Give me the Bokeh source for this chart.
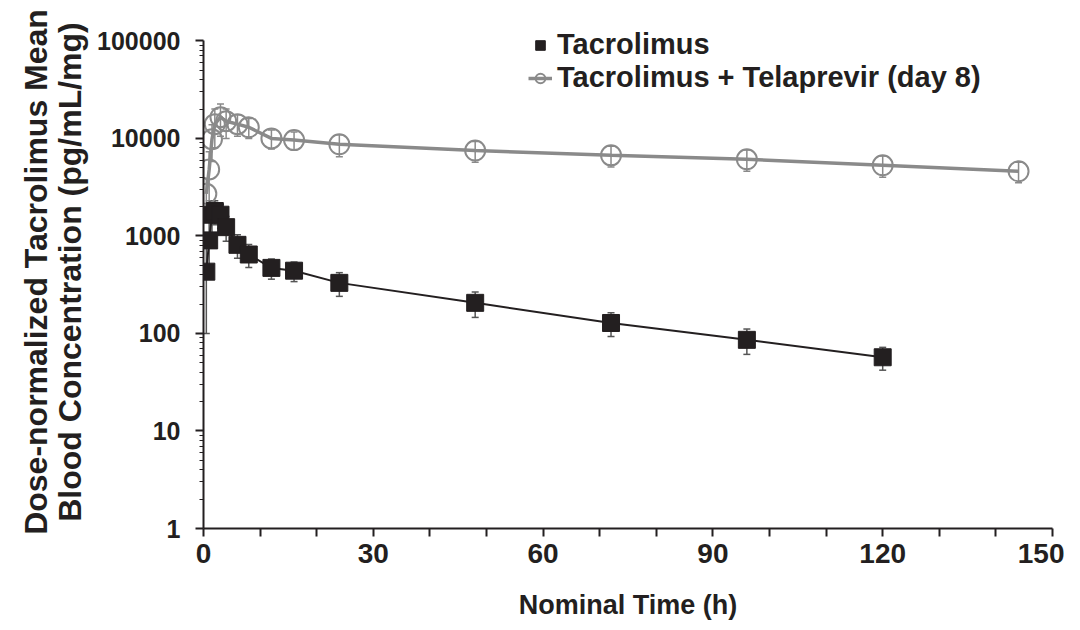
from bokeh.plotting import figure
from bokeh.models import (ColumnDataSource, Whisker, TeeHead, Legend, LegendItem,
                          FixedTicker, PrintfTickFormatter, Range1d)
from bokeh.embed import file_html
from bokeh.resources import INLINE

# ---- data ----
tac_time = [0.5, 1, 1.5, 2, 3, 4, 6, 8, 12, 16, 24, 48, 72, 96, 120]
tac_mean = [430, 900, 1650, 1800, 1650, 1230, 810, 645, 470, 440, 330, 206, 128, 86, 57]
tac_sd = [330, 500, 600, 500, 450, 350, 220, 170, 110, 100, 90, 60, 35, 25, 15]

tel_time = [0.5, 1, 1.5, 2, 3, 4, 6, 8, 12, 16, 24, 48, 72, 96, 120, 144]
tel_mean = [2700, 4800, 9800, 14000, 16500, 15000, 14000, 13000, 10000, 9600, 8700,
            7500, 6700, 6100, 5300, 4600]
tel_sd = [1200, 2500, 4000, 6000, 6000, 5000, 3500, 3000, 2200, 2000, 2200,
          1800, 1600, 1500, 1300, 1100]

x_ticks = [0, 10, 20, 30, 40, 50, 60, 70, 80, 90, 100, 110, 120, 130, 140, 150]
x_labeled = [0, 30, 60, 90, 120, 150]
y_ticks = [1, 10, 100, 1000, 10000, 100000]

series_labels = ["Tacrolimus", "Tacrolimus + Telaprevir (day 8)"]
x_title = "Nominal Time (h)"
y_title = "Dose-normalized Tacrolimus Mean\nBlood Concentration (pg/mL/mg)"

FONT = "Liberation Sans"
BLACK = "#231f20"
GRAY = "#8a8a8a"

tac_src = ColumnDataSource(dict(
    t=tac_time, y=tac_mean,
    upper=[m + s for m, s in zip(tac_mean, tac_sd)],
    lower=[m - s for m, s in zip(tac_mean, tac_sd)]))
tel_src = ColumnDataSource(dict(
    t=tel_time, y=tel_mean,
    upper=[m + s for m, s in zip(tel_mean, tel_sd)],
    lower=[m - s for m, s in zip(tel_mean, tel_sd)]))

# frame extends a little above 100000 so the legend has room; axis line stops at 100000
p = figure(width=1064, height=622, y_axis_type="log",
           x_range=Range1d(0, 150), y_range=Range1d(1, 10 ** 5.26),
           output_backend="svg", toolbar_location=None,
           min_border_left=203, min_border_right=12,
           min_border_top=15, min_border_bottom=94)
p.outline_line_color = None
p.xgrid.visible = False
p.ygrid.visible = False
p.background_fill_color = "white"

# error bars
tel_w = Whisker(base="t", upper="upper", lower="lower", source=tel_src,
                line_color=GRAY, line_width=1.5,
                upper_head=TeeHead(size=7, line_color=GRAY, line_width=1.5),
                lower_head=TeeHead(size=7, line_color=GRAY, line_width=1.5))
tac_w = Whisker(base="t", upper="upper", lower="lower", source=tac_src,
                line_color="#555555", line_width=1.5,
                upper_head=TeeHead(size=7, line_color="#555555", line_width=1.5),
                lower_head=TeeHead(size=7, line_color="#555555", line_width=1.5))
p.add_layout(tel_w)
p.add_layout(tac_w)

tel_line = p.line("t", "y", source=tel_src, line_color=GRAY, line_width=3.5)
tel_pts = p.scatter("t", "y", source=tel_src, marker="circle", size=20,
                    fill_alpha=0, line_color=GRAY, line_width=2)
tac_line = p.line("t", "y", source=tac_src, line_color=BLACK, line_width=2)
tac_pts = p.scatter("t", "y", source=tac_src, marker="square", size=17,
                    fill_color=BLACK, line_color=BLACK)

legend = Legend(items=[LegendItem(label=series_labels[0], renderers=[tac_pts]),
                       LegendItem(label=series_labels[1], renderers=[tel_line, tel_pts])],
                location=(325, 434), border_line_color=None, background_fill_alpha=0,
                label_text_font=FONT, label_text_font_style="bold",
                label_text_font_size="29px", label_text_color=BLACK,
                label_text_line_height=0.9,
                glyph_width=24, glyph_height=24, label_height=24,
                spacing=0, padding=0, margin=0, label_standoff=5)
p.add_layout(legend, "center")

# axes
for ax in (p.xaxis[0], p.yaxis[0]):
    ax.axis_line_color = BLACK
    ax.axis_line_width = 2
    ax.major_tick_line_color = BLACK
    ax.major_tick_line_width = 2
    ax.minor_tick_line_color = BLACK
    ax.major_tick_in = 0
    ax.minor_tick_in = 0
    ax.major_label_text_font = FONT
    ax.major_label_text_font_style = "bold"
    ax.major_label_text_color = BLACK
    ax.axis_label_text_font = FONT
    ax.axis_label_text_font_style = "bold"
    ax.axis_label_text_color = BLACK

p.xaxis.ticker = FixedTicker(ticks=x_ticks)
p.xaxis.major_label_overrides = {t: ("" if t not in x_labeled else str(t)) for t in x_ticks}
p.xaxis.major_tick_out = 8
p.xaxis.minor_tick_line_color = None
p.xaxis.major_label_text_font_size = "28px"
p.xaxis.major_label_standoff = 7
p.xaxis.axis_label = x_title
p.xaxis.axis_label_text_font_size = "27px"
p.xaxis.axis_label_standoff = 24

minor = [m * d for d in y_ticks[:-1] for m in range(2, 10)]
p.yaxis.ticker = FixedTicker(ticks=y_ticks, minor_ticks=minor)
p.yaxis.bounds = (1, 100000)
p.yaxis.formatter = PrintfTickFormatter(format="%d")
p.yaxis.major_tick_out = 8
p.yaxis.minor_tick_out = 4
p.yaxis.major_label_text_font_size = "25px"
p.yaxis.major_label_standoff = 15
p.yaxis.axis_label = y_title
p.yaxis.axis_label_text_font_size = "32px"
p.yaxis.axis_label_text_line_height = 0.95
p.yaxis.axis_label_standoff = 6

open("out.html", "w").write(file_html(p, INLINE))
